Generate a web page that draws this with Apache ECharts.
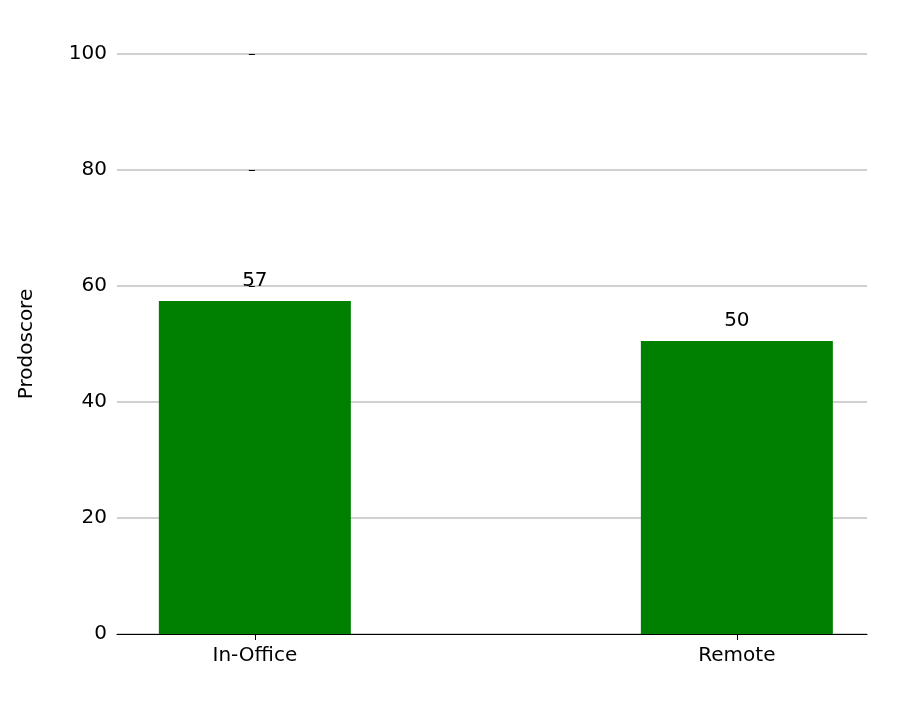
<!DOCTYPE html>
<html><head><meta charset="utf-8">
<script src="https://cdn.jsdelivr.net/npm/echarts@6/dist/echarts.min.js"></script>
<style>html,body{margin:0;padding:0;background:#fff}#c{width:900px;height:707px}</style>
</head><body><div id="c"></div>
<script>
const categories = ["In-Office", "Remote"];
const values = [57.4, 50.5];
const yTicks = [0, 20, 40, 60, 80, 100];

const chart = echarts.init(document.getElementById('c'));
chart.setOption({
  animation: false,
  grid: {left: 117, right: 33, top: 54, bottom: 73},
  xAxis: {
    type: 'value', min: -0.286, max: 1.27,
    axisLine: {show: true, lineStyle: {color: '#000', width: 1.2}},
    splitLine: {show: false},
    axisTick: {show: true, customValues: [0, 1], length: 6, lineStyle: {color: '#000'}},
    axisLabel: {customValues: [0, 1], formatter: v => categories[Math.round(v)],
      color: '#000', fontSize: 20, margin: 12, fontFamily: 'DejaVu Sans'}
  },
  yAxis: {
    type: 'value', min: 0, max: 100, interval: 20,
    name: 'Prodoscore', nameLocation: 'middle', nameGap: 80, nameRotate: 90,
    nameTextStyle: {color: '#000', fontSize: 20, fontFamily: 'DejaVu Sans'},
    axisLine: {show: false},
    axisTick: {show: true, length: 6, lineStyle: {color: '#000'}},
    axisLabel: {color: '#000', fontSize: 20, margin: 10, fontFamily: 'DejaVu Sans'},
    splitLine: {show: true, lineStyle: {color: '#c0c0c0', width: 1.5}}
  },
  series: [{
    type: 'bar', barWidth: 192,
    data: values.map((v, i) => [i, v]),
    itemStyle: {color: '#008000'},
    label: {show: true, position: 'top', distance: 10, color: '#000', fontSize: 20,
      fontFamily: 'DejaVu Sans', formatter: p => Math.floor(p.value[1])}
  }]
});
</script></body></html>
